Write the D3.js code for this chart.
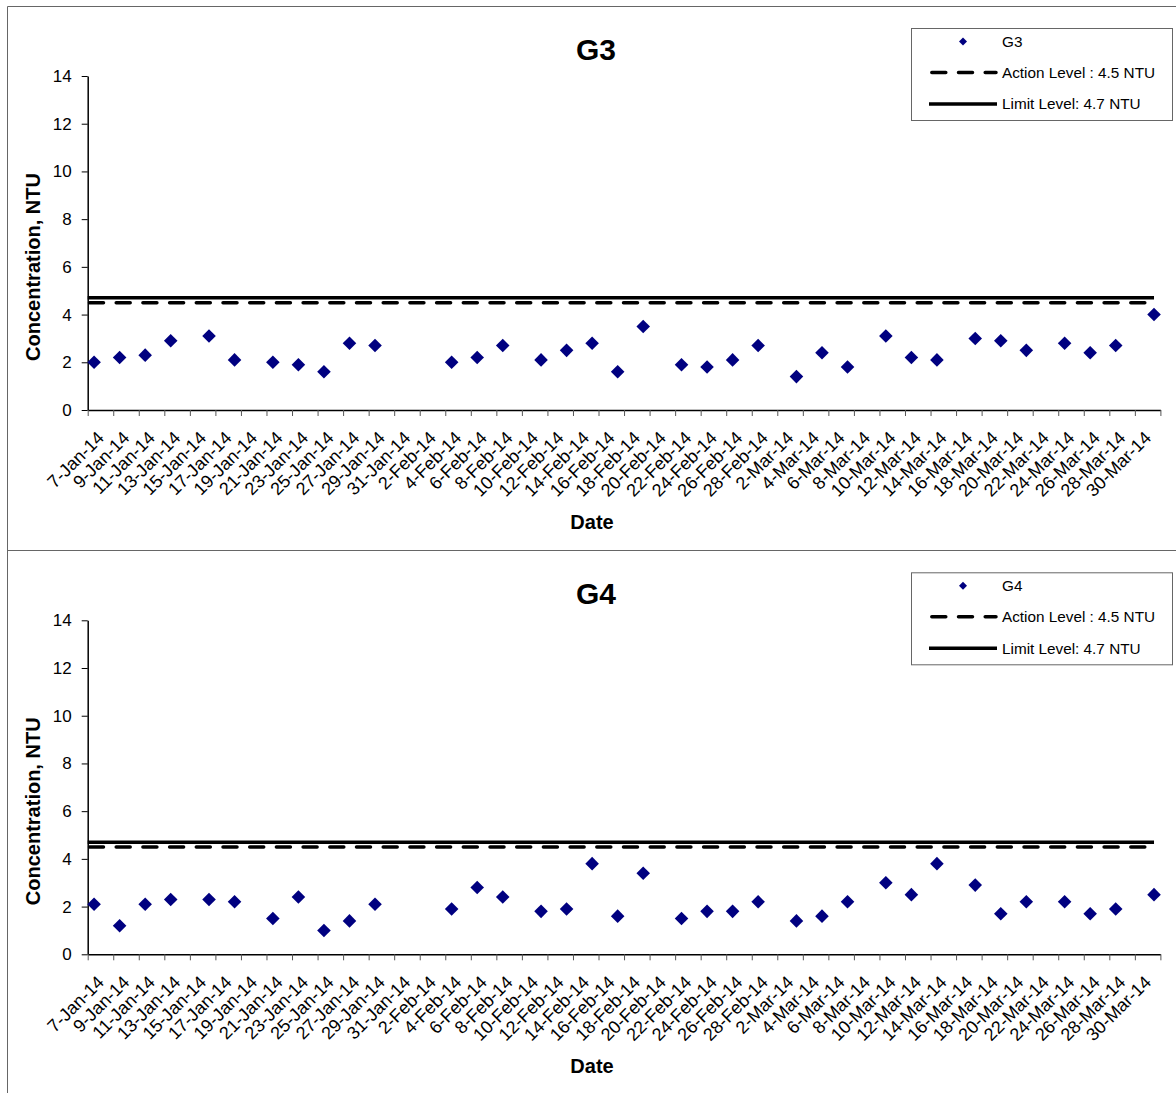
<!DOCTYPE html>
<html>
<head>
<meta charset="utf-8">
<script src="https://cdn.jsdelivr.net/npm/d3@7"></script>
<style>
  html, body { margin: 0; padding: 0; background: #fff; }
  svg { display: block; font-family: "Liberation Sans", Arial, sans-serif; }
</style>
</head>
<body>
<svg id="chart" width="1176" height="1093"></svg>
<script>
// ---------------- data ----------------
const sampleDates = [
  "2014-01-07","2014-01-09","2014-01-11","2014-01-13","2014-01-16","2014-01-18",
  "2014-01-21","2014-01-23","2014-01-25","2014-01-27","2014-01-29",
  "2014-02-04","2014-02-06","2014-02-08","2014-02-11","2014-02-13","2014-02-15",
  "2014-02-17","2014-02-19","2014-02-22","2014-02-24","2014-02-26","2014-02-28",
  "2014-03-03","2014-03-05","2014-03-07","2014-03-10","2014-03-12","2014-03-14",
  "2014-03-17","2014-03-19","2014-03-21","2014-03-24","2014-03-26","2014-03-28",
  "2014-03-31"
];
const g3Values = [
  2.0, 2.2, 2.3, 2.9, 3.1, 2.1,
  2.0, 1.9, 1.6, 2.8, 2.7,
  2.0, 2.2, 2.7, 2.1, 2.5, 2.8,
  1.6, 3.5, 1.9, 1.8, 2.1, 2.7,
  1.4, 2.4, 1.8, 3.1, 2.2, 2.1,
  3.0, 2.9, 2.5, 2.8, 2.4, 2.7,
  4.0
];
const g4Values = [
  2.1, 1.2, 2.1, 2.3, 2.3, 2.2,
  1.5, 2.4, 1.0, 1.4, 2.1,
  1.9, 2.8, 2.4, 1.8, 1.9, 3.8,
  1.6, 3.4, 1.5, 1.8, 1.8, 2.2,
  1.4, 1.6, 2.2, 3.0, 2.5, 3.8,
  2.9, 1.7, 2.2, 2.2, 1.7, 1.9,
  2.5
];
const yTickValues = [0, 2, 4, 6, 8, 10, 12, 14];
const axisStartDate = "2014-01-07";
const axisEndDate = "2014-04-01";
const actionLevel = 4.5;
const limitLevel = 4.7;
const panelNames = ["G3", "G4"];
const legendLabels = ["Action Level : 4.5 NTU", "Limit Level: 4.7 NTU"];

// ---------------- layout ----------------
const svg = d3.select("#chart");
const parse = d3.utcParse("%Y-%m-%d");
const fmt = d3.utcFormat("%-d-%b-%y");
const NAVY = "#000080";
const panelOffset = 544.3;

const x = d3.scaleUtc()
  .domain([parse(axisStartDate), parse(axisEndDate)])
  .range([87.7, 1160.4]);
const noon = d => d3.utcHour.offset(d, 12);

const tickDates = d3.utcDay.range(parse(axisStartDate), d3.utcDay.offset(parse(axisEndDate), 1), 2);
const labelDates = tickDates.filter(d => d < parse(axisEndDate));

// panel borders
svg.append("path")
  .attr("d", "M7.5,1093 L7.5,6.5 L1176,6.5 M7.5,550.5 L1176,550.5")
  .attr("fill", "none").attr("stroke", "#666").attr("stroke-width", 1);

function drawPanel(idx, name, values) {
  const oy = idx * panelOffset;
  const g = svg.append("g").attr("transform", `translate(0,${oy})`);
  const y = d3.scaleLinear().domain([0, 14]).range([410, 76]);

  // title
  g.append("text").attr("x", 596).attr("y", 60)
    .attr("text-anchor", "middle").attr("font-weight", "bold")
    .attr("font-size", 30).text(name);

  // y axis
  const ya = g.append("g").attr("transform", "translate(87.7,0)")
    .call(d3.axisLeft(y).tickValues(yTickValues).tickSize(6).tickSizeOuter(0).tickPadding(10));
  ya.select(".domain").attr("stroke", "#000").attr("stroke-width", 1.5);
  ya.selectAll("text").attr("font-size", 17).attr("fill", "#000")
    .attr("font-family", "Liberation Sans, Arial, sans-serif");

  // x axis
  const xa = g.append("g").attr("transform", "translate(0,410)")
    .call(d3.axisBottom(x).tickValues(tickDates).tickSize(6).tickSizeOuter(0).tickFormat(""));
  xa.select(".domain").attr("stroke", "#000").attr("stroke-width", 1.5);
  xa.selectAll(".tick line").attr("stroke", "#555");

  // x labels
  g.append("g").selectAll("text").data(labelDates).join("text")
    .attr("transform", d => `translate(${x(noon(d)) + 11},${439}) rotate(-45)`)
    .attr("text-anchor", "end")
    .attr("font-size", 18)
    .text(d => fmt(d));

  // axis titles
  g.append("text").attr("x", 592).attr("y", 529)
    .attr("text-anchor", "middle").attr("font-weight", "bold")
    .attr("font-size", 20).text("Date");
  g.append("text").attr("transform", "translate(40,267) rotate(-90)")
    .attr("text-anchor", "middle").attr("font-weight", "bold")
    .attr("font-size", 20).text("Concentration, NTU");

  // level lines
  const lineGen = d3.line().x(d => x(d[0])).y(d => y(d[1]));
  const lineStart = parse(axisStartDate);
  const lineEnd = noon(parse(sampleDates[sampleDates.length - 1]));
  g.append("path").datum([[lineStart, limitLevel], [lineEnd, limitLevel]])
    .attr("d", lineGen).attr("stroke", "#000").attr("stroke-width", 3.5).attr("fill", "none");
  g.append("path").datum([[lineStart, actionLevel], [lineEnd, actionLevel]])
    .attr("d", lineGen).attr("stroke", "#000").attr("stroke-width", 3.5).attr("fill", "none")
    .attr("stroke-dasharray", "14,12.7").attr("stroke-linecap", "round")
    .attr("stroke-dashoffset", -1.8);

  // points
  const sym = d3.symbol().type(d3.symbolSquare).size(92);
  g.append("g").selectAll("path").data(sampleDates.map((d, i) => [parse(d), values[i]]))
    .join("path")
    .attr("transform", d => `translate(${x(noon(d[0]))},${y(d[1])}) rotate(45)`)
    .attr("d", sym).attr("fill", NAVY);

  // legend
  const lg = g.append("g");
  lg.append("rect").attr("x", 911.5).attr("y", 28.5).attr("width", 261).attr("height", 92)
    .attr("fill", "#fff").attr("stroke", "#666").attr("stroke-width", 1);
  lg.append("path").attr("d", d3.symbol().type(d3.symbolSquare).size(32)())
    .attr("transform", "translate(963,41.5) rotate(45)").attr("fill", NAVY);
  lg.append("line").attr("x1", 930).attr("x2", 996).attr("y1", 72.5).attr("y2", 72.5)
    .attr("stroke", "#000").attr("stroke-width", 3.5)
    .attr("stroke-dasharray", "14,12.7").attr("stroke-linecap", "round").attr("stroke-dashoffset", -1.8);
  lg.append("line").attr("x1", 929).attr("x2", 997).attr("y1", 104).attr("y2", 104)
    .attr("stroke", "#000").attr("stroke-width", 3.5);
  const legendTexts = [name].concat(legendLabels);
  lg.selectAll("text.lt").data(legendTexts).join("text").attr("class", "lt")
    .attr("x", 1002).attr("y", (d, i) => 41.5 + i * 31.3)
    .attr("dy", "0.35em").attr("font-size", 15.3).text(d => d);
}

panelNames.forEach((n, i) => drawPanel(i, n, i === 0 ? g3Values : g4Values));
</script>
</body>
</html>
